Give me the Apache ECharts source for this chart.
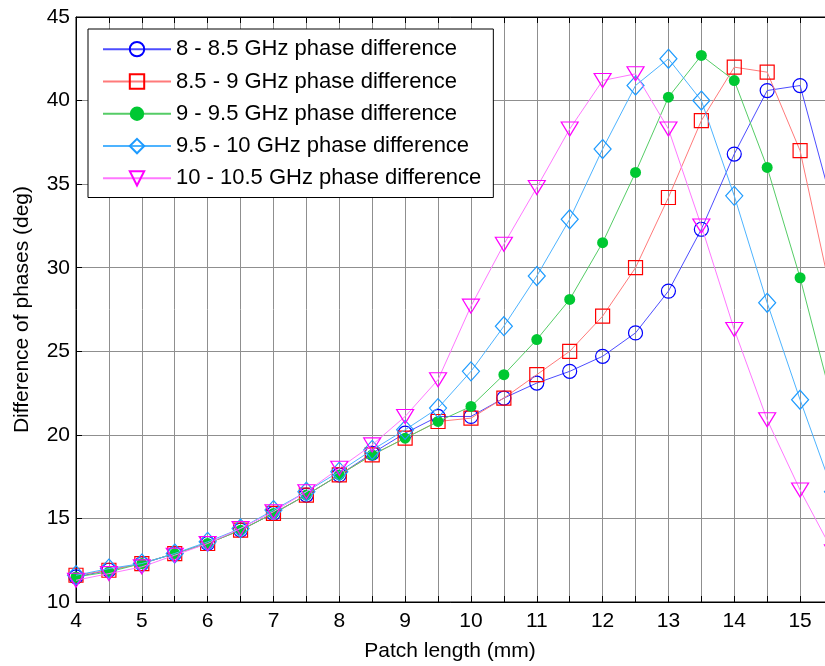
<!DOCTYPE html>
<html>
<head>
<meta charset="utf-8">
<script src="https://cdn.jsdelivr.net/npm/echarts@6/dist/echarts.min.js"></script>
<style>
  html, body { margin: 0; padding: 0; background: #ffffff; }
  #chart { width: 825px; height: 666px; }
</style>
</head>
<body>
<div id="chart"></div>
<script>
// ---- data ----
const patchLength = [4, 4.5, 5, 5.5, 6, 6.5, 7, 7.5, 8, 8.5, 9, 9.5, 10, 10.5, 11, 11.5, 12, 12.5, 13, 13.5, 14, 14.5, 15, 15.5];
const seriesNames = [
  '8 - 8.5 GHz phase difference',
  '8.5 - 9 GHz phase difference',
  '9 - 9.5 GHz phase difference',
  '9.5 - 10 GHz phase difference',
  '10 - 10.5 GHz phase difference'
];
const band8_85   = [11.5, 11.9, 12.3, 12.9, 13.5, 14.3, 15.3, 16.4, 17.6, 18.9, 20.1, 21.1, 21.1, 22.2, 23.1, 23.8, 24.7, 26.1, 28.6, 32.3, 36.8, 40.6, 40.9, 33.6];
const band85_9   = [11.6, 11.9, 12.3, 12.9, 13.5, 14.3, 15.3, 16.4, 17.6, 18.8, 19.8, 20.8, 21.0, 22.2, 23.6, 25.0, 27.1, 30.0, 34.2, 38.8, 42.0, 41.7, 37.0, 27.9];
const band9_95   = [11.5, 11.8, 12.3, 12.9, 13.5, 14.3, 15.3, 16.4, 17.6, 18.8, 19.8, 20.8, 21.7, 23.6, 25.7, 28.1, 31.5, 35.7, 40.2, 42.7, 41.2, 36.0, 29.4, 21.8];
const band95_10  = [11.6, 12.0, 12.3, 12.9, 13.6, 14.4, 15.5, 16.6, 17.8, 19.1, 20.3, 21.6, 23.8, 26.5, 29.5, 32.9, 37.1, 40.9, 42.5, 40.0, 34.3, 27.9, 22.1, 16.6];
const band10_105 = [11.3, 11.7, 12.1, 12.8, 13.5, 14.4, 15.4, 16.6, 18.0, 19.4, 21.1, 23.3, 27.7, 31.4, 34.8, 38.3, 41.2, 41.6, 38.3, 32.5, 26.3, 20.9, 16.7, 13.0];
const yTicks = [10, 15, 20, 25, 30, 35, 40, 45];
const xTickLabels = [4, 5, 6, 7, 8, 9, 10, 11, 12, 13, 14, 15];

// ---- styles ----
const FONT = "'Liberation Sans', Arial, sans-serif";
const styles = [
  { line: '#4d4dff', mark: '#0000ff', symbol: 'circle', size: 14, fill: false, rotate: 0 },
  { line: '#ff7a7a', mark: '#ff0000', symbol: 'rect', size: 14, fill: false, rotate: 0 },
  { line: '#55cc66', mark: '#00c832', symbol: 'circle', size: 11, fill: true, rotate: 0 },
  { line: '#4db3ff', mark: '#1e9bff', symbol: 'diamond', size: [17, 19], fill: false, rotate: 0 },
  { line: '#ff77ff', mark: '#ff00ff', symbol: 'triangle', size: [17, 14], fill: false, rotate: 180 }
];
const values = [band8_85, band85_9, band9_95, band95_10, band10_105];

const series = values.map((vals, i) => {
  const s = styles[i];
  return {
    name: seriesNames[i],
    type: 'line',
    data: patchLength.map((x, k) => [x, vals[k]]),
    symbol: s.symbol,
    symbolSize: s.size,
    symbolRotate: s.rotate,
    showAllSymbol: true,
    color: s.mark,
    lineStyle: { color: s.line, width: 1 },
    itemStyle: s.fill
      ? { color: s.mark, borderColor: s.mark, borderWidth: 0 }
      : { color: 'rgba(255,255,255,0)', borderColor: s.mark, borderWidth: 1.2 },
    emphasis: { disabled: true },
    animation: false,
    z: 2 + i
  };
});

const chart = echarts.init(document.getElementById('chart'), null, { renderer: 'canvas' });
chart.setOption({
  backgroundColor: '#ffffff',
  animation: false,
  textStyle: { fontFamily: FONT },
  grid: {
    left: 76, top: 17, right: -8, bottom: 64,
    containLabel: false,
    outerBoundsMode: 'none',
    show: true, borderColor: '#000', borderWidth: 1, backgroundColor: 'transparent'
  },
  legend: {
    orient: 'vertical',
    left: 88,
    top: 29,
    padding: [9, 12, 8, 14],
    itemWidth: 68,
    itemHeight: 18,
    itemGap: 10,
    backgroundColor: '#ffffff',
    borderColor: '#000000',
    borderWidth: 1,
    borderRadius: 0,
    selectedMode: false,
    textStyle: { fontFamily: FONT, fontSize: 22, color: '#000', lineHeight: 22.3 },
    data: seriesNames
  },
  xAxis: [{
    type: 'value',
    min: 4,
    max: 15.5,
    interval: 0.5,
    name: 'Patch length (mm)',
    nameLocation: 'middle',
    nameGap: 39,
    nameTextStyle: { fontFamily: FONT, fontSize: 21, color: '#000', padding: [0, 9, 0, 0] },
    axisLine: { show: true, lineStyle: { color: '#000', width: 1 } },
    axisTick: { show: true, inside: true, length: 6, lineStyle: { color: '#000' } },
    axisLabel: {
      fontFamily: FONT, fontSize: 21, color: '#000', margin: 9,
      formatter: v => (xTickLabels.indexOf(v) >= 0 ? String(v) : '')
    },
    splitLine: { show: true, lineStyle: { color: '#8f8f8f', width: 1 } }
  }, {
    type: 'value',
    position: 'top',
    min: 4,
    max: 15.5,
    interval: 0.5,
    axisLine: { show: true, lineStyle: { color: '#000', width: 1 } },
    axisTick: { show: true, inside: true, length: 6, lineStyle: { color: '#000' } },
    axisLabel: { show: false },
    splitLine: { show: false }
  }],
  yAxis: {
    type: 'value',
    min: yTicks[0],
    max: yTicks[yTicks.length - 1],
    interval: 5,
    name: 'Difference of phases (deg)',
    nameLocation: 'middle',
    nameGap: 43,
    nameRotate: 90,
    nameTextStyle: { fontFamily: FONT, fontSize: 21, color: '#000' },
    axisLine: { show: true, lineStyle: { color: '#000', width: 1 } },
    axisTick: { show: true, inside: true, length: 6, lineStyle: { color: '#000' } },
    axisLabel: { fontFamily: FONT, fontSize: 21, color: '#000', margin: 6 },
    splitLine: { show: true, lineStyle: { color: '#8f8f8f', width: 1 } }
  },
  series: series
});
</script>
</body>
</html>
